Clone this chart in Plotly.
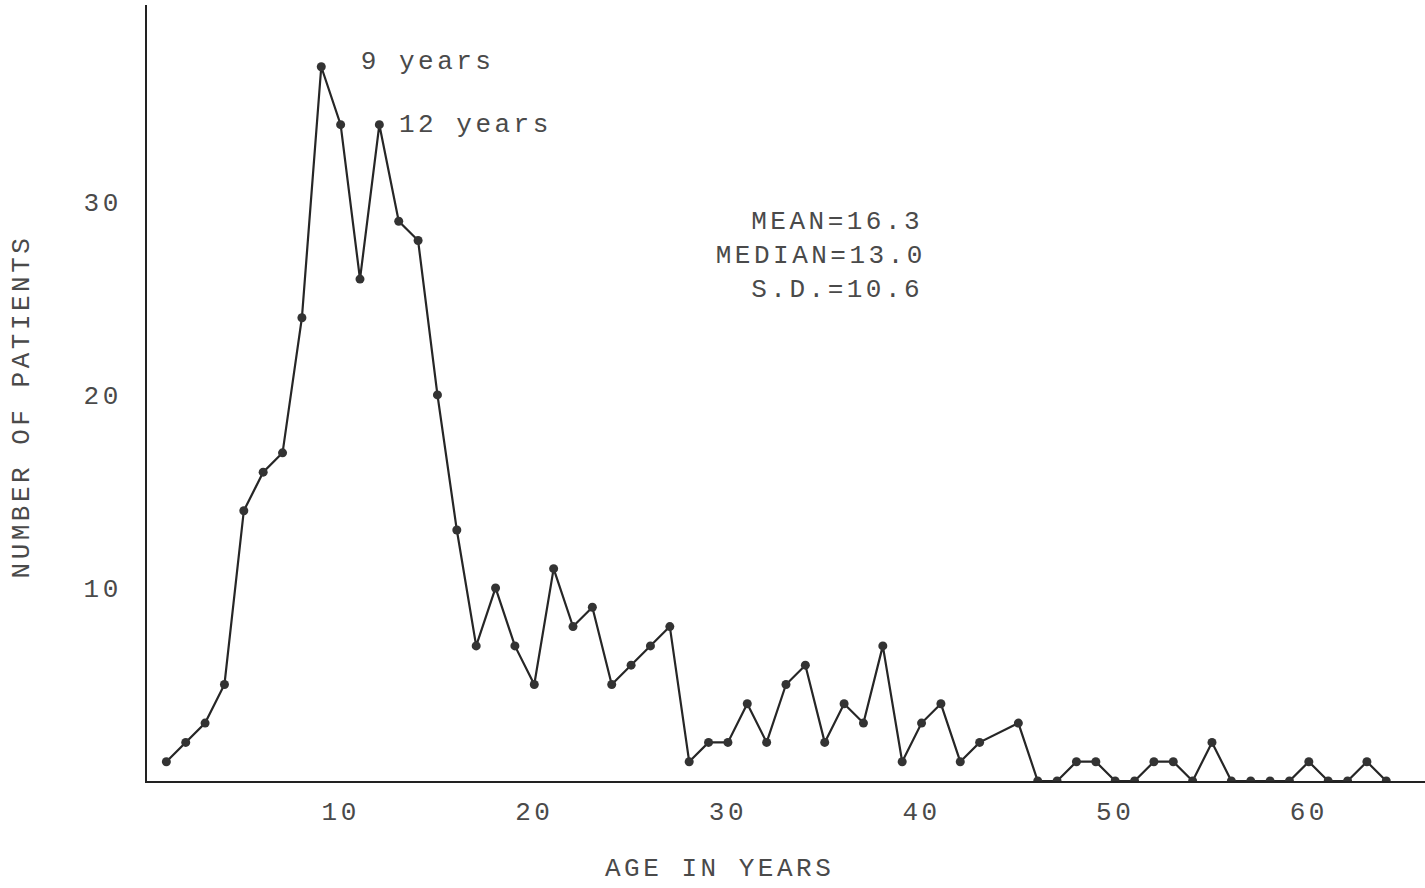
import plotly.graph_objects as go

ages = list(range(1, 44)) + list(range(45, 65))
patients = [1, 2, 3, 5, 14, 16, 17, 24, 37, 34,
            26, 34, 29, 28, 20, 13, 7, 10, 7, 5,
            11, 8, 9, 5, 6, 7, 8, 1, 2, 2,
            4, 2, 5, 6, 2, 4, 3, 7, 1, 3,
            4, 1, 2,
            3, 0, 0, 1, 1, 0, 0, 1, 1, 0, 2,
            0, 0, 0, 0, 1, 0, 0, 1, 0]

x_ticks = [10, 20, 30, 40, 50, 60]
y_ticks = [10, 20, 30]
stats_lines = ["MEAN=16.3", "MEDIAN=13.0", "S.D.=10.6"]

FONT = "Liberation Mono, Courier New, monospace"
TXT = "#4a4a4a"

fig = go.Figure()
fig.add_trace(go.Scatter(
    x=ages, y=patients, mode="lines+markers",
    line=dict(color="#262626", width=2.2),
    marker=dict(color="#333333", size=9),
    showlegend=False, hoverinfo="x+y",
))

ann = [
    dict(x=11.55, y=37.25, text="9 years", xanchor="left", yanchor="middle"),
    dict(x=13.65, y=34.0, text="12 years", xanchor="left", yanchor="middle"),
]
for i, s in enumerate(stats_lines):
    ann.append(dict(x=39.35, y=28.96 - 1.76 * i, text=s, xanchor="right", yanchor="middle"))
for a in ann:
    a.update(xref="x", yref="y", showarrow=False, font=dict(family=FONT, size=26, color=TXT))
    fig.add_annotation(**a)

fig.add_annotation(xref="paper", yref="paper", x=0.448, y=-0.113, text="AGE IN YEARS",
                   showarrow=False, xanchor="center", yanchor="middle",
                   font=dict(family=FONT, size=26, color=TXT))
fig.add_annotation(xref="paper", yref="paper", x=-0.098, y=0.483, text="NUMBER OF PATIENTS",
                   showarrow=False, xanchor="center", yanchor="middle", textangle=-90,
                   font=dict(family=FONT, size=26, color=TXT))

fig.update_layout(
    width=1425, height=888,
    margin=dict(l=147, r=0, t=5, b=107),
    paper_bgcolor="white", plot_bgcolor="white",
    xaxis=dict(range=[0, 66], tickvals=x_ticks, ticktext=[str(v) for v in x_ticks],
               showgrid=False, zeroline=False, showline=True, linecolor="#222222", linewidth=2,
               ticks="", ticklabelstandoff=6,
               tickfont=dict(family=FONT, size=26, color=TXT)),
    yaxis=dict(range=[0, 40.2], tickvals=y_ticks, ticktext=[str(v) for v in y_ticks],
               showgrid=False, zeroline=False, showline=True, linecolor="#222222", linewidth=2,
               ticks="", ticklabelstandoff=18,
               tickfont=dict(family=FONT, size=26, color=TXT)),
)

post = ("document.body.style.margin='0';"
        "var st=document.createElement('style');"
        "st.textContent='.main-svg text{letter-spacing:3.5px;}';"
        "document.head.appendChild(st);")
fig.write_html("out.html", post_script=post, config={"displayModeBar": False})
